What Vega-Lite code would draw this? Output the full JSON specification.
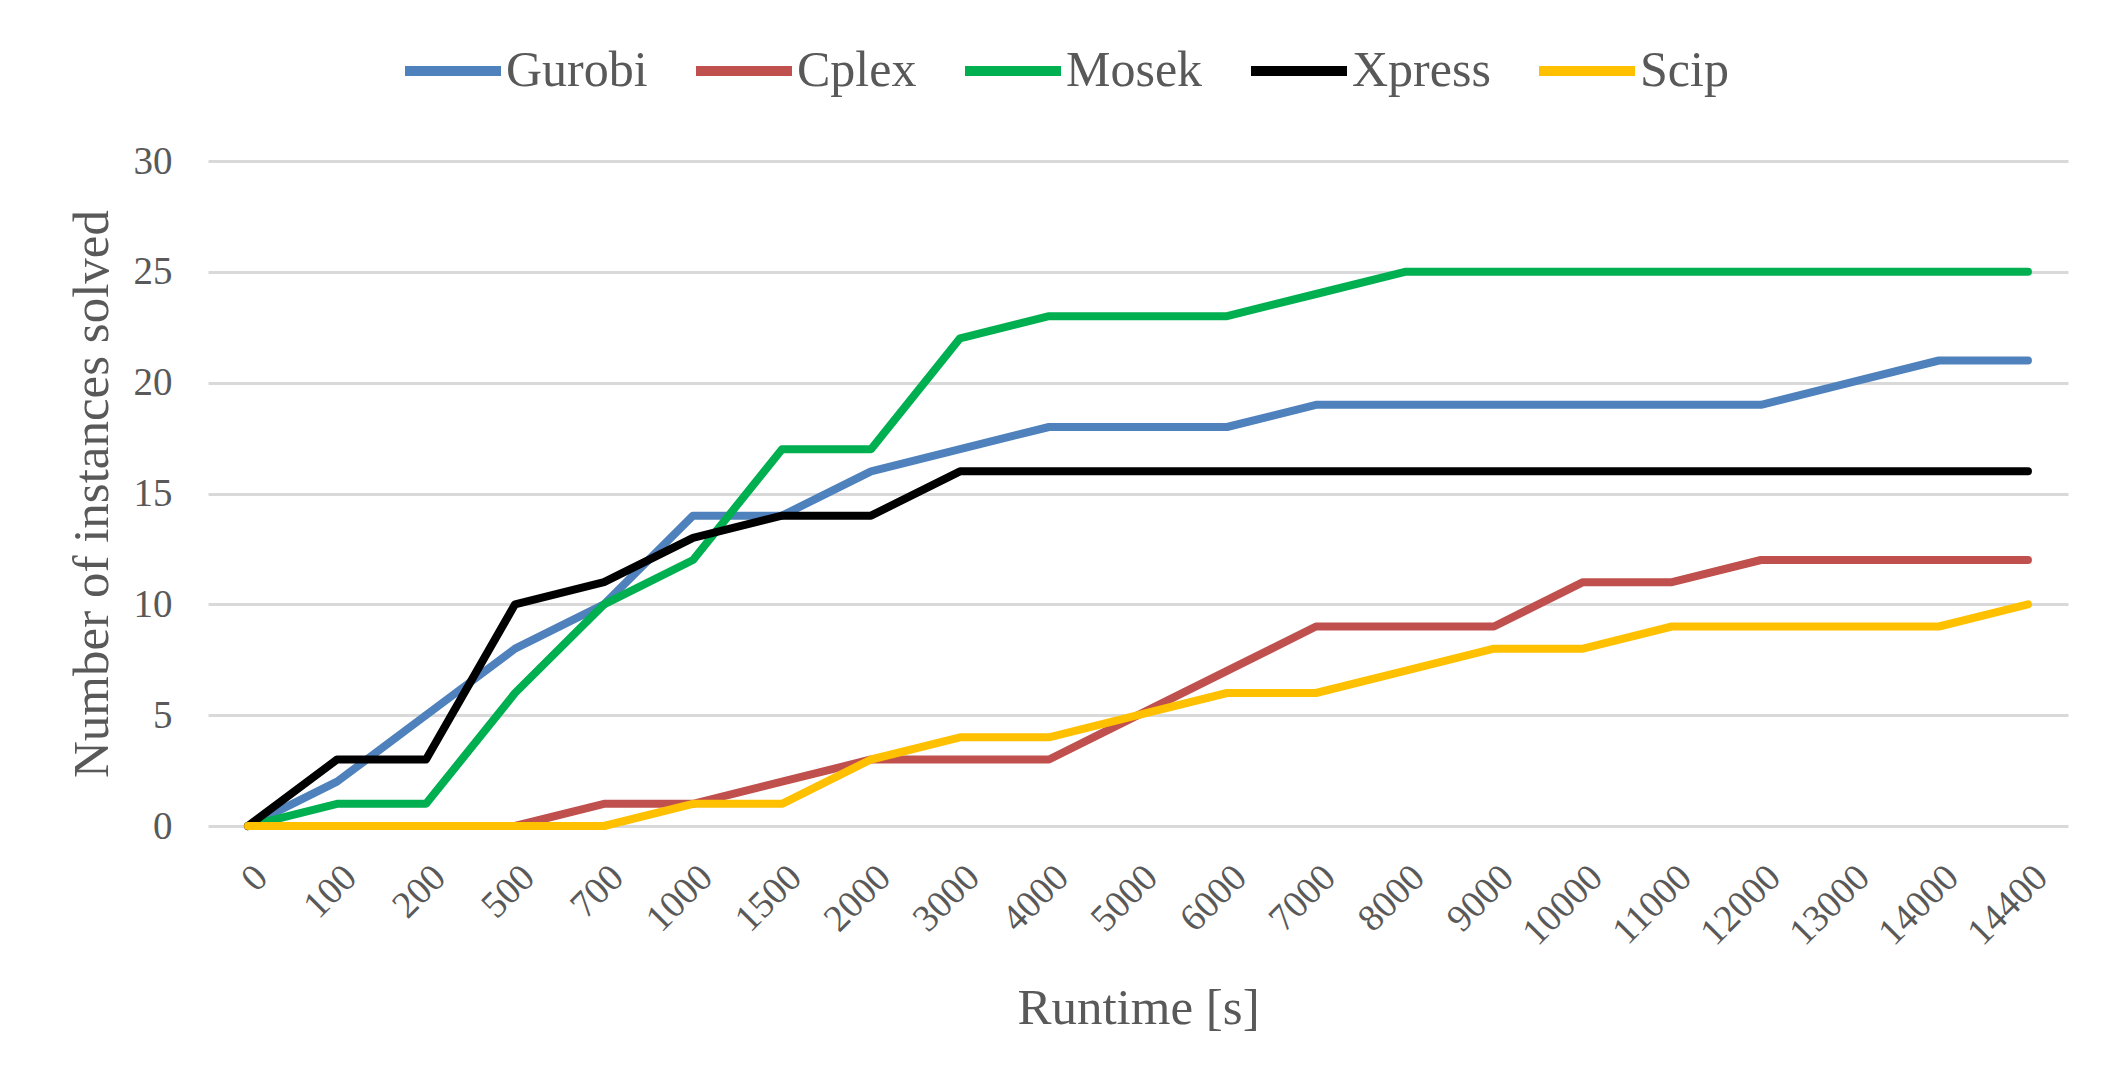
{
  "$schema": "https://vega.github.io/schema/vega-lite/v6.json",
  "width": 1860,
  "height": 665,
  "autosize": {"type": "none"},
  "padding": {"left": 208, "top": 161, "right": 52, "bottom": 261},
  "background": "white",
  "config": {"font": "Liberation Serif", "view": {"stroke": null}},
  "data": {
    "values": [
      {"runtime": "0", "solver": "Gurobi", "solved": 0},
      {"runtime": "100", "solver": "Gurobi", "solved": 2},
      {"runtime": "200", "solver": "Gurobi", "solved": 5},
      {"runtime": "500", "solver": "Gurobi", "solved": 8},
      {"runtime": "700", "solver": "Gurobi", "solved": 10},
      {"runtime": "1000", "solver": "Gurobi", "solved": 14},
      {"runtime": "1500", "solver": "Gurobi", "solved": 14},
      {"runtime": "2000", "solver": "Gurobi", "solved": 16},
      {"runtime": "3000", "solver": "Gurobi", "solved": 17},
      {"runtime": "4000", "solver": "Gurobi", "solved": 18},
      {"runtime": "5000", "solver": "Gurobi", "solved": 18},
      {"runtime": "6000", "solver": "Gurobi", "solved": 18},
      {"runtime": "7000", "solver": "Gurobi", "solved": 19},
      {"runtime": "8000", "solver": "Gurobi", "solved": 19},
      {"runtime": "9000", "solver": "Gurobi", "solved": 19},
      {"runtime": "10000", "solver": "Gurobi", "solved": 19},
      {"runtime": "11000", "solver": "Gurobi", "solved": 19},
      {"runtime": "12000", "solver": "Gurobi", "solved": 19},
      {"runtime": "13000", "solver": "Gurobi", "solved": 20},
      {"runtime": "14000", "solver": "Gurobi", "solved": 21},
      {"runtime": "14400", "solver": "Gurobi", "solved": 21},

      {"runtime": "0", "solver": "Cplex", "solved": 0},
      {"runtime": "100", "solver": "Cplex", "solved": 0},
      {"runtime": "200", "solver": "Cplex", "solved": 0},
      {"runtime": "500", "solver": "Cplex", "solved": 0},
      {"runtime": "700", "solver": "Cplex", "solved": 1},
      {"runtime": "1000", "solver": "Cplex", "solved": 1},
      {"runtime": "1500", "solver": "Cplex", "solved": 2},
      {"runtime": "2000", "solver": "Cplex", "solved": 3},
      {"runtime": "3000", "solver": "Cplex", "solved": 3},
      {"runtime": "4000", "solver": "Cplex", "solved": 3},
      {"runtime": "5000", "solver": "Cplex", "solved": 5},
      {"runtime": "6000", "solver": "Cplex", "solved": 7},
      {"runtime": "7000", "solver": "Cplex", "solved": 9},
      {"runtime": "8000", "solver": "Cplex", "solved": 9},
      {"runtime": "9000", "solver": "Cplex", "solved": 9},
      {"runtime": "10000", "solver": "Cplex", "solved": 11},
      {"runtime": "11000", "solver": "Cplex", "solved": 11},
      {"runtime": "12000", "solver": "Cplex", "solved": 12},
      {"runtime": "13000", "solver": "Cplex", "solved": 12},
      {"runtime": "14000", "solver": "Cplex", "solved": 12},
      {"runtime": "14400", "solver": "Cplex", "solved": 12},

      {"runtime": "0", "solver": "Mosek", "solved": 0},
      {"runtime": "100", "solver": "Mosek", "solved": 1},
      {"runtime": "200", "solver": "Mosek", "solved": 1},
      {"runtime": "500", "solver": "Mosek", "solved": 6},
      {"runtime": "700", "solver": "Mosek", "solved": 10},
      {"runtime": "1000", "solver": "Mosek", "solved": 12},
      {"runtime": "1500", "solver": "Mosek", "solved": 17},
      {"runtime": "2000", "solver": "Mosek", "solved": 17},
      {"runtime": "3000", "solver": "Mosek", "solved": 22},
      {"runtime": "4000", "solver": "Mosek", "solved": 23},
      {"runtime": "5000", "solver": "Mosek", "solved": 23},
      {"runtime": "6000", "solver": "Mosek", "solved": 23},
      {"runtime": "7000", "solver": "Mosek", "solved": 24},
      {"runtime": "8000", "solver": "Mosek", "solved": 25},
      {"runtime": "9000", "solver": "Mosek", "solved": 25},
      {"runtime": "10000", "solver": "Mosek", "solved": 25},
      {"runtime": "11000", "solver": "Mosek", "solved": 25},
      {"runtime": "12000", "solver": "Mosek", "solved": 25},
      {"runtime": "13000", "solver": "Mosek", "solved": 25},
      {"runtime": "14000", "solver": "Mosek", "solved": 25},
      {"runtime": "14400", "solver": "Mosek", "solved": 25},

      {"runtime": "0", "solver": "Xpress", "solved": 0},
      {"runtime": "100", "solver": "Xpress", "solved": 3},
      {"runtime": "200", "solver": "Xpress", "solved": 3},
      {"runtime": "500", "solver": "Xpress", "solved": 10},
      {"runtime": "700", "solver": "Xpress", "solved": 11},
      {"runtime": "1000", "solver": "Xpress", "solved": 13},
      {"runtime": "1500", "solver": "Xpress", "solved": 14},
      {"runtime": "2000", "solver": "Xpress", "solved": 14},
      {"runtime": "3000", "solver": "Xpress", "solved": 16},
      {"runtime": "4000", "solver": "Xpress", "solved": 16},
      {"runtime": "5000", "solver": "Xpress", "solved": 16},
      {"runtime": "6000", "solver": "Xpress", "solved": 16},
      {"runtime": "7000", "solver": "Xpress", "solved": 16},
      {"runtime": "8000", "solver": "Xpress", "solved": 16},
      {"runtime": "9000", "solver": "Xpress", "solved": 16},
      {"runtime": "10000", "solver": "Xpress", "solved": 16},
      {"runtime": "11000", "solver": "Xpress", "solved": 16},
      {"runtime": "12000", "solver": "Xpress", "solved": 16},
      {"runtime": "13000", "solver": "Xpress", "solved": 16},
      {"runtime": "14000", "solver": "Xpress", "solved": 16},
      {"runtime": "14400", "solver": "Xpress", "solved": 16},

      {"runtime": "0", "solver": "Scip", "solved": 0},
      {"runtime": "100", "solver": "Scip", "solved": 0},
      {"runtime": "200", "solver": "Scip", "solved": 0},
      {"runtime": "500", "solver": "Scip", "solved": 0},
      {"runtime": "700", "solver": "Scip", "solved": 0},
      {"runtime": "1000", "solver": "Scip", "solved": 1},
      {"runtime": "1500", "solver": "Scip", "solved": 1},
      {"runtime": "2000", "solver": "Scip", "solved": 3},
      {"runtime": "3000", "solver": "Scip", "solved": 4},
      {"runtime": "4000", "solver": "Scip", "solved": 4},
      {"runtime": "5000", "solver": "Scip", "solved": 5},
      {"runtime": "6000", "solver": "Scip", "solved": 6},
      {"runtime": "7000", "solver": "Scip", "solved": 6},
      {"runtime": "8000", "solver": "Scip", "solved": 7},
      {"runtime": "9000", "solver": "Scip", "solved": 8},
      {"runtime": "10000", "solver": "Scip", "solved": 8},
      {"runtime": "11000", "solver": "Scip", "solved": 9},
      {"runtime": "12000", "solver": "Scip", "solved": 9},
      {"runtime": "13000", "solver": "Scip", "solved": 9},
      {"runtime": "14000", "solver": "Scip", "solved": 9},
      {"runtime": "14400", "solver": "Scip", "solved": 10}
    ]
  },
  "mark": {"type": "line", "strokeWidth": 8, "strokeJoin": "round", "strokeCap": "round"},
  "encoding": {
    "x": {
      "field": "runtime",
      "type": "ordinal",
      "sort": ["0", "100", "200", "500", "700", "1000", "1500", "2000", "3000", "4000", "5000", "6000", "7000", "8000", "9000", "10000", "11000", "12000", "13000", "14000", "14400"],
      "scale": {"type": "point", "padding": 0.45},
      "axis": {
        "title": "Runtime [s]",
        "titleFontSize": 51,
        "titleFontWeight": "normal",
        "titleColor": "#595959",
        "titlePadding": 31,
        "labelFontSize": 38,
        "labelColor": "#595959",
        "labelAngle": -45,
        "labelPadding": 32,
        "labelOverlap": false,
        "ticks": false,
        "domain": false,
        "grid": false
      }
    },
    "y": {
      "field": "solved",
      "type": "quantitative",
      "scale": {"domain": [0, 30]},
      "axis": {
        "title": "Number of instances solved",
        "titleFontSize": 51,
        "titleFontWeight": "normal",
        "titleColor": "#595959",
        "titlePadding": 15,
        "values": [0, 5, 10, 15, 20, 25, 30],
        "labelFontSize": 39,
        "labelColor": "#595959",
        "labelPadding": 36,
        "ticks": false,
        "domain": false,
        "grid": true,
        "gridColor": "#D9D9D9",
        "gridWidth": 3
      }
    },
    "color": {
      "field": "solver",
      "type": "nominal",
      "sort": ["Gurobi", "Cplex", "Mosek", "Xpress", "Scip"],
      "scale": {
        "domain": ["Gurobi", "Cplex", "Mosek", "Xpress", "Scip"],
        "range": ["#4F81BD", "#C0504D", "#00B050", "#000000", "#FFC000"]
      },
      "legend": {
        "title": null,
        "orient": "none",
        "legendX": 192,
        "legendY": -143,
        "direction": "horizontal",
        "columns": 5,
        "labelFontSize": 50,
        "labelColor": "#595959",
        "labelOffset": 0,
        "columnPadding": 28,
        "symbolType": "stroke",
        "symbolSize": 9216,
        "symbolStrokeWidth": 10
      }
    }
  }
}
